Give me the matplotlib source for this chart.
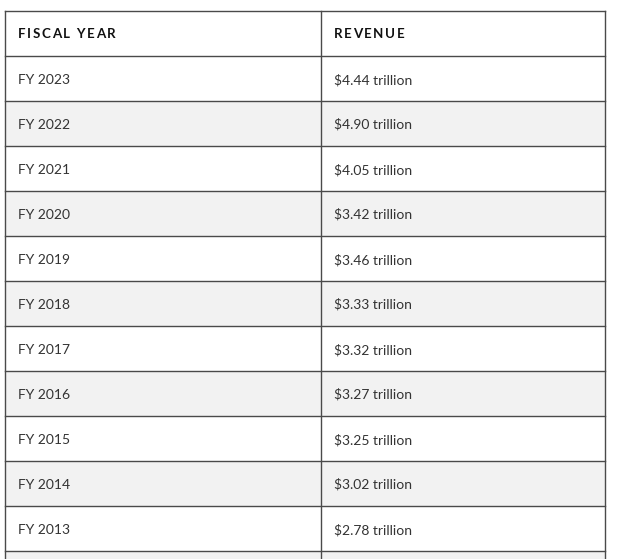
import matplotlib.pyplot as plt
from matplotlib.patches import Rectangle

# table contents
headers = ["FISCAL YEAR", "REVENUE"]
years = ["FY 2023", "FY 2022", "FY 2021", "FY 2020", "FY 2019", "FY 2018",
         "FY 2017", "FY 2016", "FY 2015", "FY 2014", "FY 2013"]
revenue = ["$4.44 trillion", "$4.90 trillion", "$4.05 trillion", "$3.42 trillion",
           "$3.46 trillion", "$3.33 trillion", "$3.32 trillion", "$3.27 trillion",
           "$3.25 trillion", "$3.02 trillion", "$2.78 trillion"]

W, H = 629, 559
left, mid, right = 5, 320.5, 605
top, row_h = 11, 45
line_col = "#4a4a4a"
stripe = "#f2f2f2"

fig = plt.figure(figsize=(W / 100, H / 100), dpi=100)
ax = fig.add_axes([0, 0, 1, 1])
ax.set_xlim(0, W)
ax.set_ylim(H, 0)
ax.axis("off")
renderer = fig.canvas.get_renderer()


def spaced_text(x, y, s, tracking, **kw):
    # letter-spaced text: place each char at the width of the prefix + tracking
    t2 = ax.text(0, 0, "|", **kw)
    w_bar = t2.get_window_extent(renderer).width
    t2.remove()
    for k, ch in enumerate(s):
        off = 0
        if k > 0:
            t = ax.text(0, 0, s[:k] + "|", **kw)
            off = t.get_window_extent(renderer).width - w_bar
            t.remove()
        ax.text(x + off + k * tracking, y, ch, va="baseline", ha="left", **kw)


n_rows = len(years) + 2  # header + data + partly visible next row
for i in range(n_rows):
    y0 = top + i * row_h
    face = stripe if (i >= 1 and i % 2 == 0) else "white"
    ax.add_patch(Rectangle((left, y0), right - left, row_h, facecolor=face,
                           edgecolor="none", zorder=1))
    ax.plot([left, right], [y0, y0], color=line_col, lw=1, zorder=3)

bottom = top + n_rows * row_h
for x in (left, mid, right):
    ax.plot([x, x], [top, bottom], color=line_col, lw=1, zorder=3)

head_kw = dict(fontfamily="Lato", fontweight="bold", fontsize=9.6,
               color="#111111", zorder=4)
spaced_text(left + 13, top + 27, headers[0], 1.6, **head_kw)
spaced_text(mid + 13, top + 27, headers[1], 1.6, **head_kw)

for i, (yr, rev) in enumerate(zip(years, revenue)):
    yb = top + (i + 1) * row_h + 28
    ax.text(left + 13, yb, yr, fontfamily="Lato", fontsize=10,
            color="#333333", va="baseline", ha="left", zorder=4)
    ax.text(mid + 13.5, yb, rev, fontfamily="Lato", fontsize=10,
            color="#333333", va="baseline", ha="left", zorder=4)

fig.savefig("out.png", dpi=100)
